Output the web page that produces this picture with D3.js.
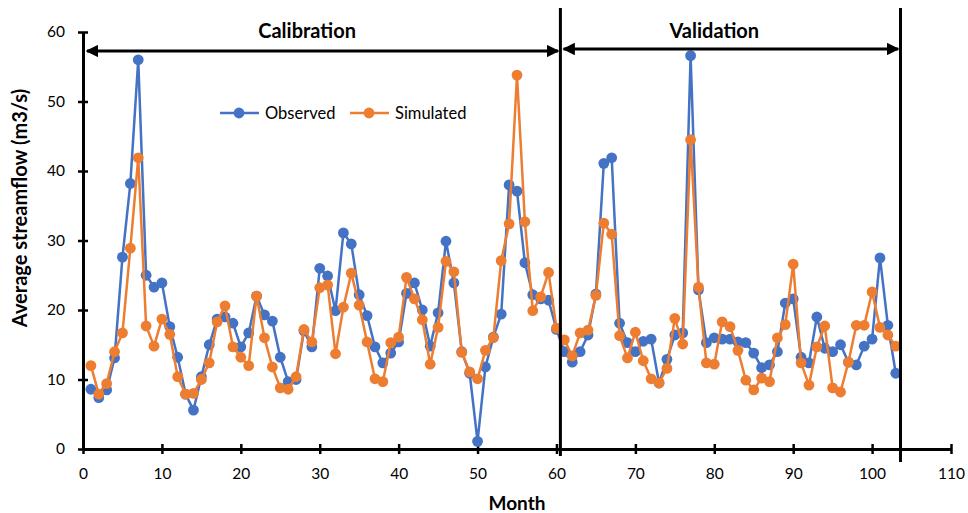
<!DOCTYPE html>
<html>
<head>
<meta charset="utf-8">
<script src="https://cdn.jsdelivr.net/npm/d3@7"></script>
<style>
  body { margin: 0; background: #fff; }
  text { font-family: Lato, "Open Sans", sans-serif; fill: #000; }
</style>
</head>
<body>
<svg width="968" height="513"></svg>
<script>
// monthly average streamflow (m3/s), months 1..103
var observed = [8.6, 7.4, 8.5, 13.1, 27.6, 38.2, 56.0, 25.0, 23.3, 23.9,
    17.6, 13.2, 7.9, 5.6, 10.4, 15.0, 18.7, 19.0, 18.1, 14.7,
    16.7, 22.0, 19.3, 18.4, 13.2, 9.7, 10.0, 17.0, 14.7, 26.0,
    24.9, 19.9, 31.1, 29.5, 22.2, 19.2, 14.7, 12.4, 13.8, 15.4,
    22.4, 23.9, 20.0, 14.8, 19.6, 29.9, 23.9, 14.0, 10.9, 1.1,
    11.8, 16.1, 19.4, 38.0, 37.1, 26.8, 22.2, 21.6, 21.4, 17.2,
    14.0, 12.5, 14.0, 16.4, 22.3, 41.1, 41.9, 18.1, 15.3, 14.0,
    15.5, 15.8, 9.5, 12.9, 16.4, 16.7, 56.6, 22.9, 15.3, 16.0,
    15.8, 15.8, 15.4, 15.3, 13.8, 11.7, 12.1, 14.0, 21.0, 21.6,
    13.2, 12.4, 19.0, 14.5, 14.0, 15.0, 12.5, 12.1, 14.8, 15.8,
    27.5, 17.8, 10.9];
var simulated = [12.0, 7.9, 9.4, 14.0, 16.7, 28.9, 41.9, 17.7, 14.8, 18.7,
    16.5, 10.4, 7.9, 8.0, 10.0, 12.4, 18.3, 20.6, 14.7, 13.2,
    12.0, 22.0, 16.0, 11.8, 8.8, 8.6, 10.4, 17.2, 15.4, 23.2,
    23.6, 13.7, 20.4, 25.3, 20.7, 15.4, 10.1, 9.7, 15.3, 16.1,
    24.7, 21.6, 18.6, 12.2, 17.5, 27.0, 25.5, 13.9, 11.1, 10.1,
    14.2, 16.0, 27.1, 32.4, 53.8, 32.7, 19.9, 21.9, 25.4, 17.4,
    15.7, 13.4, 16.7, 17.1, 22.1, 32.5, 30.9, 16.3, 13.1, 16.8,
    12.7, 10.1, 9.5, 11.6, 18.8, 15.1, 44.5, 23.3, 12.4, 12.2,
    18.3, 17.6, 14.2, 9.9, 8.5, 10.2, 9.7, 16.0, 17.9, 26.6,
    12.4, 9.2, 14.7, 17.7, 8.8, 8.2, 12.5, 17.8, 17.8, 22.6,
    17.5, 16.4, 14.8];
var months = d3.range(1, observed.length + 1);

var xTicks = d3.range(0, 111, 10),
    yTicks = d3.range(0, 61, 10);

// period arrows (month positions) and labels
var periods = [
    {name: "Calibration", from: 0.5, to: 60.2, labelX: 28.4},
    {name: "Validation", from: 60.9, to: 103.3, labelX: 80.0}
];
var dividers = [60.5, 103.6];

var series = [
    {name: "Observed", values: observed, color: "#4472C4"},
    {name: "Simulated", values: simulated, color: "#ED7D31"}
];

var svg = d3.select("svg"),
    margin = {top: 32, right: 17, bottom: 64, left: 83},
    width = +svg.attr("width") - margin.left - margin.right,
    height = +svg.attr("height") - margin.top - margin.bottom,
    g = svg.append("g").attr("transform", "translate(" + margin.left + "," + margin.top + ")");

var x = d3.scaleLinear().domain([0, 110]).range([0, width]);
var y = d3.scaleLinear().domain([0, 60]).range([height, 0]);

// axes
var xAxis = g.append("g")
    .attr("transform", "translate(0," + height + ")")
    .call(d3.axisBottom(x).tickValues(xTicks).tickSize(5).tickSizeOuter(0).tickPadding(14));
var yAxis = g.append("g")
    .call(d3.axisLeft(y).tickValues(yTicks).tickSize(5).tickSizeOuter(0).tickPadding(13));

[xAxis, yAxis].forEach(function(a) {
    a.select(".domain").attr("stroke", "#000").attr("stroke-width", 3);
    a.selectAll(".tick line").attr("stroke", "#000").attr("stroke-width", 2.5);
    a.selectAll(".tick text").style("font-size", "15.5px").attr("fill", "#000");
});
// ticks cross the axis line
xAxis.selectAll(".tick line").attr("y1", -5);
yAxis.selectAll(".tick line").attr("x1", 5);

// series
var line = d3.line()
    .x(function(d, i) { return x(months[i]); })
    .y(function(d) { return y(d); });

series.forEach(function(s) {
    var sg = g.append("g");
    sg.append("path")
        .datum(s.values)
        .attr("fill", "none")
        .attr("stroke", s.color)
        .attr("stroke-width", 2.5)
        .attr("stroke-linejoin", "round")
        .attr("d", line);
    sg.selectAll("circle")
        .data(s.values)
        .enter().append("circle")
            .attr("cx", function(d, i) { return x(months[i]); })
            .attr("cy", function(d) { return y(d); })
            .attr("r", 5.4)
            .attr("fill", s.color);
});

// period dividers
g.selectAll(".divider")
    .data(dividers)
    .enter().append("line")
        .attr("class", "divider")
        .attr("x1", function(d) { return x(d); })
        .attr("x2", function(d) { return x(d); })
        .attr("y1", -24)
        .attr("y2", function(d, i) { return height + (i ? 13 : 7); })
        .attr("stroke", "#000")
        .attr("stroke-width", 3);

// double-headed arrows
var defs = svg.append("defs");
defs.append("marker")
    .attr("id", "arrow")
    .attr("viewBox", "0 0 10 10")
    .attr("refX", 9).attr("refY", 5)
    .attr("markerWidth", 4.2).attr("markerHeight", 4.2)
    .attr("markerUnits", "strokeWidth")
    .attr("orient", "auto-start-reverse")
  .append("path")
    .attr("d", "M0,0L10,5L0,10z")
    .attr("fill", "#000");

var pg = g.selectAll(".period")
    .data(periods)
    .enter().append("g")
        .attr("class", "period");

pg.append("line")
    .attr("x1", function(d) { return x(d.from); })
    .attr("x2", function(d) { return x(d.to); })
    .attr("y1", function(d, i) { return i ? 17 : 19; })
    .attr("y2", function(d, i) { return i ? 17 : 19; })
    .attr("stroke", "#000")
    .attr("stroke-width", 3)
    .attr("marker-start", "url(#arrow)")
    .attr("marker-end", "url(#arrow)");

pg.append("text")
    .attr("x", function(d) { return x(d.labelX); })
    .attr("y", 6)
    .attr("text-anchor", "middle")
    .style("font-size", "20px")
    .style("font-weight", "bold")
    .text(function(d) { return d.name; });

// legend
var legend = g.selectAll(".legend")
    .data(series)
    .enter().append("g")
        .attr("class", "legend")
        .attr("transform", function(d, i) { return "translate(" + (137 + i * 130) + ",81)"; });
legend.append("line")
    .attr("x1", 0).attr("x2", 39)
    .attr("stroke", function(d) { return d.color; })
    .attr("stroke-width", 2.5);
legend.append("circle")
    .attr("cx", 19).attr("r", 5.4)
    .attr("fill", function(d) { return d.color; });
legend.append("text")
    .attr("x", 45).attr("dy", "0.36em")
    .style("font-size", "16.5px")
    .text(function(d) { return d.name; });

// axis titles
svg.append("text")
    .attr("x", 517)
    .attr("y", 510)
    .attr("text-anchor", "middle")
    .style("font-size", "19px")
    .style("font-weight", "bold")
    .text("Month");

svg.append("text")
    .attr("transform", "translate(27,208) rotate(-90)")
    .attr("text-anchor", "middle")
    .style("font-size", "20px")
    .style("font-weight", "bold")
    .text("Average streamflow (m3/s)");
</script>
</body>
</html>
